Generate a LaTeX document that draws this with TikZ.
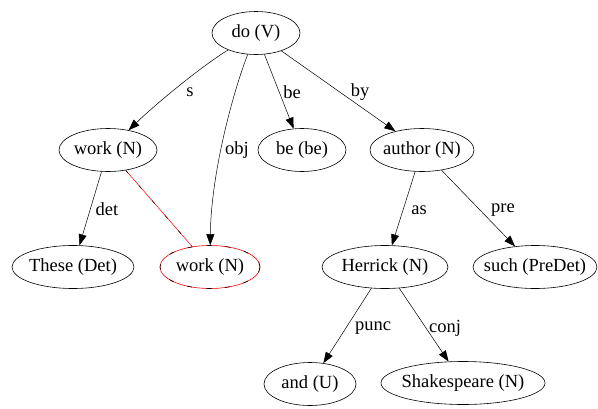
\documentclass[tikz,border=0pt]{standalone}
\usepackage{fontspec}
\setmainfont{Liberation Serif}
\usetikzlibrary{arrows.meta,shapes.geometric}
% word text takes no width, so each ellipse keeps the size it is given
\newcommand\wtext[1]{\makebox[0pt]{#1}}
\begin{document}
\begin{tikzpicture}[x=1pt,y=-1pt,
  word/.style={draw, ellipse, line width=0.6pt, minimum height=43pt, inner sep=0pt, font=\fontsize{18.5}{21}\selectfont},
  edge/.style={draw, line width=0.5pt, -{Triangle[length=11pt,width=8pt]}},
  lbl/.style={font=\fontsize{18.5}{21}\selectfont, inner sep=0pt}]
\useasboundingbox (0,0) rectangle (598,408);
% words of the sentence
\node[word, minimum width=88pt] (do) at (256,33) {\wtext{do (V)}};
\node[word, minimum width=98pt] (work) at (108,150) {\wtext{work (N)}};
\node[word, minimum width=88pt] (be) at (302,150) {\wtext{be (be)}};
\node[word, minimum width=104pt] (author) at (422,150) {\wtext{author (N)}};
\node[word, minimum width=122pt] (these) at (73,267) {\wtext{These (Det)}};
\node[word, minimum width=100pt, draw=red] (work2) at (210,267) {\wtext{work (N)}};
\node[word, minimum width=126pt] (herrick) at (385,267) {\wtext{Herrick (N)}};
\node[word, minimum width=124pt] (such) at (535,267) {\wtext{such (PreDet)}};
\node[word, minimum width=92pt] (and) at (310,384) {\wtext{and (U)}};
\node[word, minimum width=164pt] (shakes) at (463,383) {\wtext{Shakespeare (N)}};
% coreference mark on the repeated word
\draw[black, line width=0.6pt, dash pattern=on 5pt off 14pt] (work2.center) ellipse [x radius=50pt, y radius=21.5pt];
% dependency relations
\draw[edge] (do) .. controls (205,64) and (160,100) .. (work) node[lbl] at (190,92) {s};
\draw[edge] (do) .. controls (232,95) and (211,175) .. (work2) node[lbl] at (237,150) {obj};
\draw[edge] (do) -- (be) node[lbl] at (292,92) {be};
\draw[edge] (do) -- (author) node[lbl] at (360,92) {by};
\draw[edge] (work) -- (these) node[lbl] at (107,209) {det};
\draw[red, line width=0.5pt] (work) -- (work2);
\draw[black, line width=0.5pt, dash pattern=on 4pt off 16pt] (work) -- (work2);
\draw[edge] (author) -- (herrick) node[lbl] at (419,210) {as};
\draw[edge] (author) -- (such) node[lbl] at (503,210) {pre};
\draw[edge] (herrick) -- (and) node[lbl] at (373,328) {punc};
\draw[edge] (herrick) -- (shakes) node[lbl] at (445,328) {conj};
\end{tikzpicture}
\end{document}
